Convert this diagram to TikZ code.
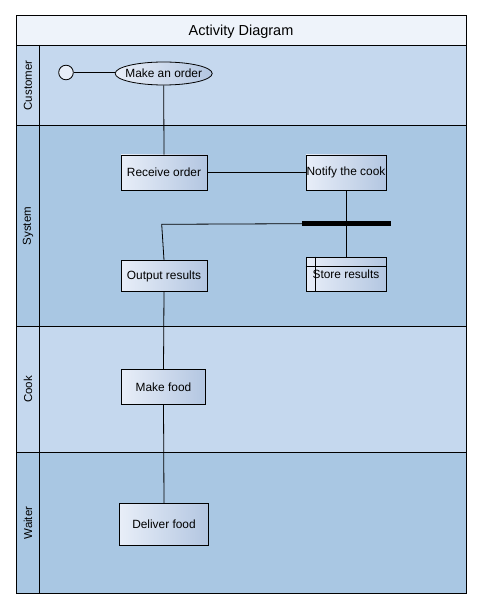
\documentclass[tikz,border=0pt]{standalone}
\usepackage{fontspec}
\setmainfont{Liberation Sans}
\usetikzlibrary{shapes.geometric}
\definecolor{titlebg}{HTML}{EEF3FA}
\definecolor{lanelight}{HTML}{C5D8EE}
\definecolor{lanedark}{HTML}{A9C7E3}
\definecolor{boxl}{HTML}{E8EEF8}
\definecolor{boxr}{HTML}{B3C6E1}
\tikzset{
  frameline/.style={draw=black, line width=0.9pt},
  actbox/.style={draw=black, line width=0.8pt, rectangle, inner sep=0pt,
    left color=boxl, right color=boxr, font=\fontsize{11.9}{13}\selectfont},
  conn/.style={draw=black, line width=0.8pt},
  lanelabel/.style={rotate=90, font=\fontsize{11.5}{13}\selectfont, inner sep=0pt},
}
\begin{document}
\begin{tikzpicture}[x=1pt, y=-1pt]
\useasboundingbox (0,0) rectangle (482,609);
% lanes
\fill[titlebg] (16,15) rectangle (466,45);
\fill[lanelight] (16,45) rectangle (466,125.5);
\fill[lanedark] (16,125.5) rectangle (466,326.5);
\fill[lanelight] (16,326.5) rectangle (466,452.3);
\fill[lanedark] (16,452.3) rectangle (466,593);
\draw[frameline] (16,15) rectangle (466,593);
\draw[frameline] (16,45) -- (466,45);
\draw[frameline] (16,125.5) -- (466,125.5);
\draw[frameline] (16,326.5) -- (466,326.5);
\draw[frameline] (16,452.3) -- (466,452.3);
\draw[frameline] (39.3,45) -- (39.3,593);
\node[font=\fontsize{14.5}{16}\selectfont] (title) at (241,31.5) {Activity Diagram};
\node[lanelabel] (lcust) at (28,85.5) {Customer};
\node[lanelabel] (lsys) at (28,226) {System};
\node[lanelabel] (lcook) at (28,389.5) {Cook};
\node[lanelabel] (lwait) at (28,523) {Waiter};
% nodes
\node[circle, draw=black, line width=0.8pt, fill=boxl, minimum size=14.6pt, inner sep=0pt] (start) at (66,72.5) {};
\node[ellipse, draw=black, line width=0.8pt, left color=boxl, right color=boxr, minimum width=97pt, minimum height=23pt, inner sep=0pt] (order) at (163.7,73.5) {};
\node[font=\fontsize{11.9}{13}\selectfont, inner sep=0pt] (orderlbl) at (order.center) {Make an order};
\node[actbox, minimum width=86pt, minimum height=35pt] (recv) at (164,172.5) {Receive order};
\node[actbox, minimum width=80pt, minimum height=35pt] (notify) at (346,172.5) {Notify the cook};
\node[actbox, minimum width=86pt, minimum height=31pt] (out) at (164,276) {Output results};
\node[actbox, minimum width=80pt, minimum height=34pt] (store) at (346,274) {Store results};
\node[actbox, minimum width=84pt, minimum height=35pt] (make) at (163.5,387) {Make food};
\node[actbox, minimum width=89pt, minimum height=42pt] (deliver) at (164,524.3) {Deliver food};
\draw[conn, line width=0.7pt] (store.north west) ++(10,0) coordinate (sv1) -- (store.south west -| sv1);
\draw[conn, line width=0.7pt] (store.west) ++(0,-7.5) coordinate (sh1) -- (store.east |- sh1);
% connectors
\draw[conn] (start.east) -- (order.west |- start.east);
\draw[conn] (order.south) -- (recv.north);
\draw[conn] (recv.east) -- (notify.west);
\draw[conn] (notify.south) -- (store.north);
\node[fill=black, minimum width=89pt, minimum height=5.5pt, inner sep=0pt] (bar) at (346.5,223.7) {};
\coordinate (corner) at (161.7,224.3);
\draw[conn] (bar.west) -- (corner) -- (out.north);
\draw[conn] (out.south) -- (make.north);
\draw[conn] (make.south) -- (deliver.north);
\end{tikzpicture}
\end{document}
